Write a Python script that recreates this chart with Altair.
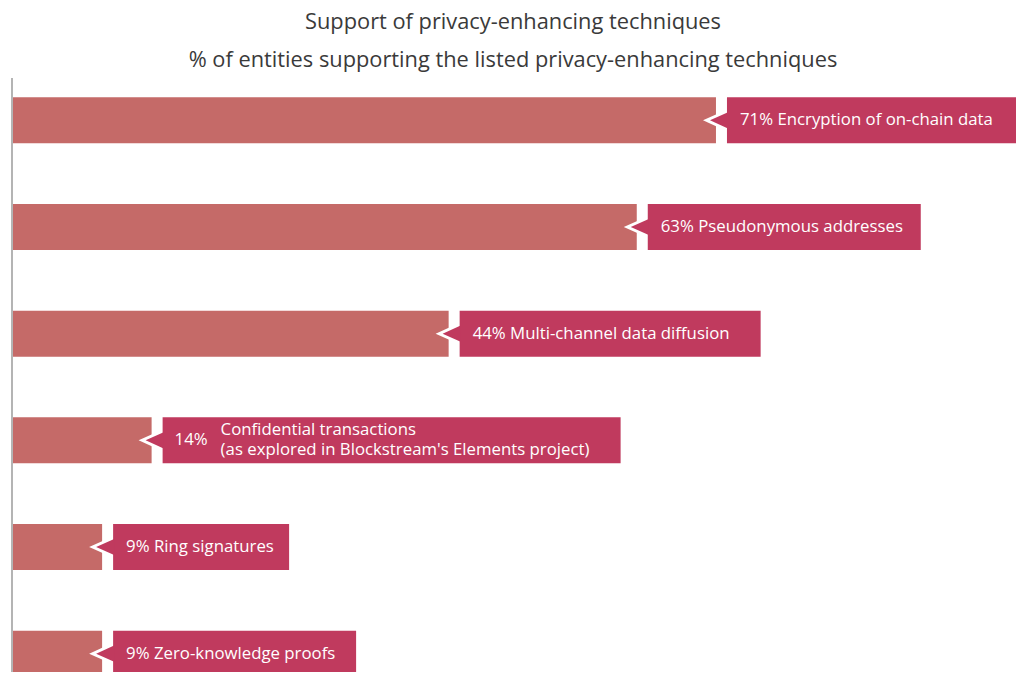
import altair as alt
import pandas as pd

# ---- data ----
techniques = [
    "Encryption of on-chain data",
    "Pseudonymous addresses",
    "Multi-channel data diffusion",
    "Confidential transactions\n(as explored in Blockstream's Elements project)",
    "Ring signatures",
    "Zero-knowledge proofs",
]
percent = [71, 63, 44, 14, 9, 9]

# ---- layout / style constants ----
PLOT_W = 1000
X_MAX = 101.0
PX_PER_PCT = PLOT_W / X_MAX
LABEL_BOX_PX = [292, 273, 301, 458, 176, 243]   # width of each label box in pixels
BOX_GAP_PX = 11
BAR_COLOR = "#C56A68"
BOX_COLOR = "#C03A5E"
FONT = "Open Sans"
LABEL_SIZE = 16.8
TRI = "M1,-0.9L-1,0L1,0.9Z"

df = pd.DataFrame({"name": techniques, "value": percent})
df["row"] = range(len(df))
df["box_start"] = df["value"] + BOX_GAP_PX / PX_PER_PCT
df["box_end"] = df["box_start"] + pd.Series(LABEL_BOX_PX) / PX_PER_PCT
df["multiline"] = df["name"].str.contains("\n")
df["pct"] = df["value"].astype(str) + "%"
df["full"] = df["pct"] + " " + df["name"]

x = alt.X("value:Q", scale=alt.Scale(domain=[0, X_MAX], nice=False), axis=None)
y = alt.Y("row:O", axis=None,
          scale=alt.Scale(range=[0, 640], paddingInner=0, paddingOuter=0))

base = alt.Chart(df)

axis_line = base.mark_rule(color="#b5b5b5", strokeWidth=1.5).encode(
    x=alt.value(-1), y=alt.value(11), y2=alt.value(700)
)

bars = base.mark_bar(size=46, color=BAR_COLOR).encode(x=x, y=y)

white_tri = base.mark_point(shape=TRI, filled=True, color="white", opacity=1,
                            size=324, xOffset=-4, strokeWidth=0).encode(x=x, y=y)

boxes = base.mark_bar(size=46, color=BOX_COLOR).encode(
    x=alt.X("box_start:Q", scale=alt.Scale(domain=[0, X_MAX], nice=False), axis=None),
    x2="box_end:Q", y=y
)

red_tri = base.mark_point(shape=TRI, filled=True, color=BOX_COLOR, opacity=1,
                          size=324, xOffset=3, strokeWidth=0).encode(x=x, y=y)

text_single = base.transform_filter("!datum.multiline").mark_text(
    align="left", baseline="middle", dx=24, color="white", font=FONT, fontSize=LABEL_SIZE
).encode(x=x, y=y, text="full:N")

text_pct = base.transform_filter("datum.multiline").mark_text(
    align="left", baseline="middle", dx=23, color="white", font=FONT, fontSize=LABEL_SIZE
).encode(x=x, y=y, text="pct:N")

text_multi = base.transform_filter("datum.multiline").mark_text(
    align="left", baseline="middle", dx=69, dy=-10, color="white", font=FONT,
    fontSize=LABEL_SIZE, lineBreak="\n", lineHeight=20
).encode(x=x, y=y, text="name:N")

chart = alt.layer(
    axis_line, bars, white_tri, boxes, red_tri, text_single, text_pct, text_multi
).properties(
    width=PLOT_W,
    height=600,
    autosize="none",
    padding={"left": 5, "top": 59, "right": 3, "bottom": 5},
    title=alt.Title(
        "Support of privacy-enhancing techniques",
        subtitle="% of entities supporting the listed privacy-enhancing techniques",
        font=FONT, fontSize=21.8, fontWeight="normal", color="#3a3a3a",
        subtitleFont=FONT, subtitleFontSize=21.8, subtitleColor="#3a3a3a",
        subtitlePadding=16, anchor="middle", offset=-5,
    ),
).configure_view(stroke=None)

chart.save("out.html", embed_options={"renderer": "svg", "actions": False})
